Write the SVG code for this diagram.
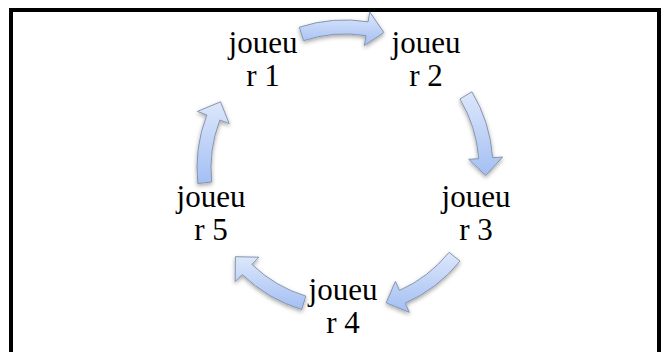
<svg xmlns="http://www.w3.org/2000/svg" width="669" height="352" viewBox="0 0 669 352">
  <defs>
    <linearGradient id="arrowFill" x1="0" y1="0" x2="0" y2="1">
      <stop offset="0" stop-color="#dde7fb"/>
      <stop offset="1" stop-color="#a3bff3"/>
    </linearGradient>
    <filter id="shadow" x="-30%" y="-30%" width="160%" height="160%">
      <feDropShadow dx="0" dy="2" stdDeviation="2" flood-color="#000" flood-opacity="0.35"/>
    </filter>
  </defs>
  <style>
    .label { font-family: "Liberation Serif", "Times New Roman", serif; font-size: 31px; fill: #000; text-anchor: middle; }
    .arrow { fill: url(#arrowFill); stroke: #8695ad; stroke-width: 1; stroke-linejoin: round; filter: url(#shadow); }
    .frame { fill: none; stroke: #000; stroke-width: 4; }
  </style>
  <rect width="669" height="352" fill="#fff"/>
  <rect class="frame" x="11" y="10" width="648" height="360"/>

  <g id="connectors">
    <path class="arrow" d="M299.3,27.2 A148,148 0 0 1 368.1,21.8 L369.7,11.9 L383.9,32.5 L364.4,45.5 L366.0,35.6 A134,134 0 0 0 303.6,40.6 Z"/>
    <path class="arrow" d="M471.9,91.8 A148,148 0 0 1 492.6,157.7 L502.6,157.0 L485.8,175.4 L468.7,159.3 L478.7,158.7 A134,134 0 0 0 459.9,99.0 Z"/>
    <path class="arrow" d="M460.0,261.1 A148,148 0 0 1 405.2,303.2 L409.3,312.3 L386.2,302.8 L395.4,281.3 L399.5,290.4 A134,134 0 0 0 449.1,252.3 Z"/>
    <path class="arrow" d="M301.7,309.5 A148,148 0 0 1 242.2,274.5 L235.2,281.6 L235.4,256.7 L258.9,257.2 L251.9,264.4 A134,134 0 0 0 305.8,296.1 Z"/>
    <path class="arrow" d="M197.8,183.5 A148,148 0 0 1 206.8,115.0 L197.5,111.4 L220.5,101.8 L229.2,123.6 L219.9,120.0 A134,134 0 0 0 211.7,182.0 Z"/>
  </g>

  <g id="node1">
    <text class="label" x="263" y="53">joueu</text>
    <text class="label" x="263" y="86">r 1</text>
  </g>
  <g id="node2">
    <text class="label" x="426" y="53">joueu</text>
    <text class="label" x="426" y="86">r 2</text>
  </g>
  <g id="node3">
    <text class="label" x="476" y="207">joueu</text>
    <text class="label" x="476" y="240">r 3</text>
  </g>
  <g id="node4">
    <text class="label" x="343" y="300">joueu</text>
    <text class="label" x="343" y="333">r 4</text>
  </g>
  <g id="node5">
    <text class="label" x="211" y="207">joueu</text>
    <text class="label" x="211" y="240">r 5</text>
  </g>
</svg>
